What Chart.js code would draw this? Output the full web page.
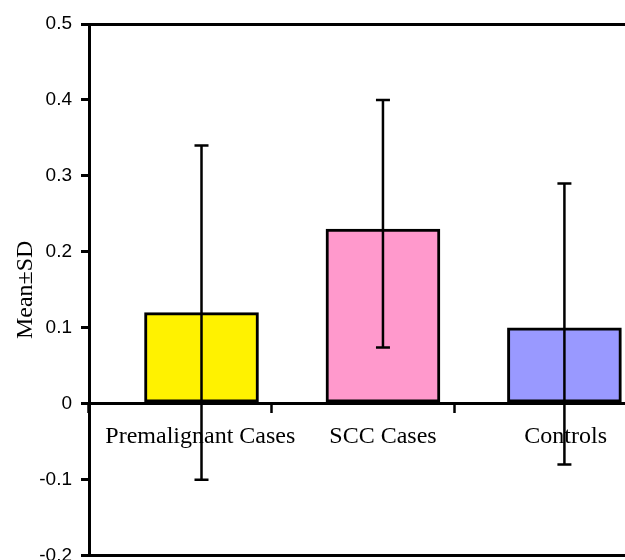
<!DOCTYPE html>
<html lang="en">
<head>
<meta charset="UTF-8">
<meta name="viewport" content="width=device-width, initial-scale=1.0">
<title>Mean±SD by group</title>
<script src="https://cdn.jsdelivr.net/npm/chart.js"></script>
<style>
    html, body {
        margin: 0;
        padding: 0;
        background: #fff;
        overflow: hidden;
    }
    .chart-box {
        position: relative;
        width: 650px;
        height: 576px;
    }
</style>
</head>
<body>
<div class="chart-box"><canvas id="meanChart"></canvas></div>
<script>
    // values
    const groups = ['Premalignant Cases', 'SCC Cases', 'Controls'];
    const means = [0.12, 0.23, 0.10];
    const upperSD = [0.34, 0.40, 0.29];
    const lowerSD = [-0.10, 0.074, -0.08];
    const yTicks = [-0.2, -0.1, 0, 0.1, 0.2, 0.3, 0.4, 0.5];
    const barColors = ['#FFF200', '#FF99CC', '#9999FF'];

    // whiskers drawn from the bar elements and the y scale
    const errorBars = {
        id: 'errorBars',
        afterDatasetsDraw(chart) {
            const meta = chart.getDatasetMeta(0);
            const y = chart.scales.y;
            const ctx = chart.ctx;
            ctx.save();
            ctx.strokeStyle = '#000';
            ctx.lineWidth = 2.5;
            meta.data.forEach((bar, i) => {
                const top = y.getPixelForValue(upperSD[i]);
                const bot = y.getPixelForValue(lowerSD[i]);
                ctx.beginPath();
                ctx.moveTo(bar.x, top);
                ctx.lineTo(bar.x, bot);
                ctx.moveTo(bar.x - 7, top);
                ctx.lineTo(bar.x + 7, top);
                ctx.moveTo(bar.x - 7, bot);
                ctx.lineTo(bar.x + 7, bot);
                ctx.stroke();
            });
            ctx.restore();
        }
    };

    new Chart(document.getElementById('meanChart'), {
        type: 'bar',
        data: {
            labels: groups,
            datasets: [{
                xAxisID: 'xb',
                data: means.map((m, i) => ({ x: i + 1, y: m })),
                backgroundColor: barColors,
                borderColor: '#000',
                borderWidth: 3,
                borderSkipped: false,
                barThickness: 114
            }]
        },
        options: {
            responsive: true,
            maintainAspectRatio: false,
            animation: false,
            layout: { padding: { top: 24, right: 13, bottom: 12, left: 0 } },
            plugins: {
                legend: { display: false },
                tooltip: { enabled: false }
            },
            scales: {
                xb: {
                    type: 'linear',
                    axis: 'x',
                    display: false,
                    offset: false,
                    min: 0.38,
                    max: 3.40
                },
                x: {
                    type: 'category',
                    position: { y: 0 },
                    offset: true,
                    grid: {
                        offset: true,
                        drawOnChartArea: false,
                        tickLength: 8,
                        tickWidth: 2.5,
                        tickColor: '#000'
                    },
                    border: { display: true, color: '#000', width: 3 },
                    ticks: {
                        color: '#000',
                        font: { family: 'Liberation Serif', size: 24 },
                        labelOffset: 20,
                        padding: 11,
                        maxRotation: 0,
                        autoSkip: false
                    }
                },
                y: {
                    min: -0.2,
                    max: 0.5,
                    afterBuildTicks: s => { s.ticks = yTicks.map(v => ({ value: v })); },
                    afterFit: s => { s.width = 89; },
                    grid: {
                        color: c => (c.tick && (c.tick.value === 0.5 || c.tick.value === -0.2)) ? '#000' : 'rgba(0,0,0,0)',
                        lineWidth: 3,
                        tickColor: '#000',
                        tickWidth: 3,
                        tickLength: 8
                    },
                    border: { display: true, color: '#000', width: 3 },
                    ticks: {
                        color: '#000',
                        font: { family: 'Liberation Sans', size: 19 },
                        padding: 9,
                        callback: v => String(+v.toFixed(1))
                    },
                    title: {
                        display: true,
                        text: 'Mean±SD',
                        color: '#000',
                        font: { family: 'Liberation Serif', size: 24 },
                        padding: { top: 11, bottom: 0 }
                    }
                }
            }
        },
        plugins: [errorBars]
    });
</script>
</body>
</html>
